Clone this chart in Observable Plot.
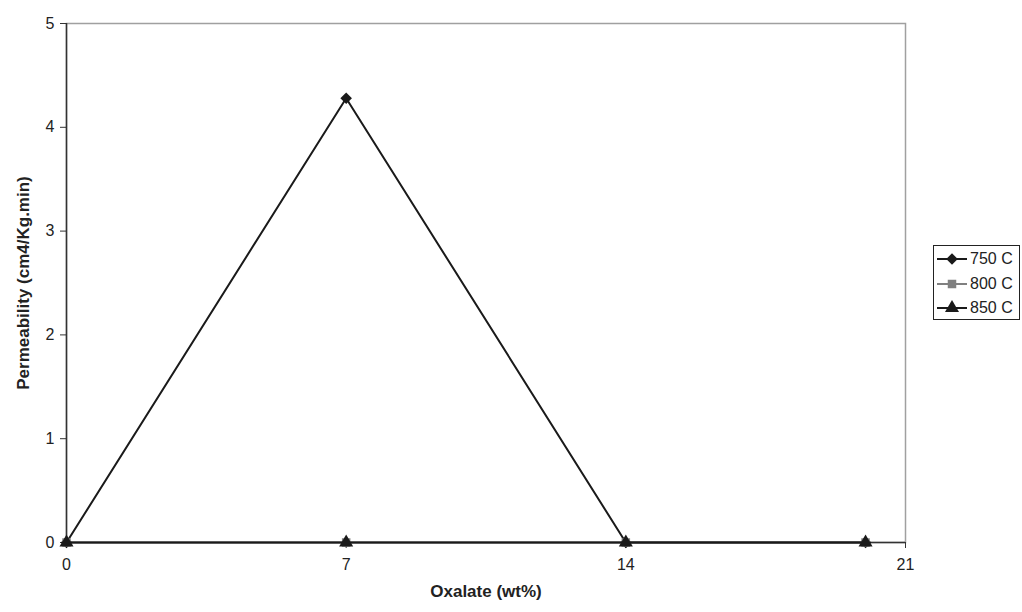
<!DOCTYPE html>
<html>
<head>
<meta charset="utf-8">
<script src="https://cdn.jsdelivr.net/npm/d3@7"></script>
<script src="https://cdn.jsdelivr.net/npm/@observablehq/plot@0.6"></script>
<style>
  body { margin: 0; background: #fff; font-family: "Liberation Sans", Arial, sans-serif; }
  #wrap { position: relative; width: 1022px; height: 612px; }
  #chart svg g[aria-label="x-axis tick label"] text,
  #chart svg g[aria-label="y-axis tick label"] text { font-size: 16px; fill: #222; }
  #chart svg g[aria-label="x-axis label"] text,
  #chart svg g[aria-label="y-axis label"] text { font-weight: bold; font-size: 17px; fill: #222; }
  #legend { position: absolute; left: 933px; top: 245px; width: 87px; height: 75px;
            border: 1px solid #222; background: #fff; box-sizing: border-box; padding-top: 1px; }
  #legend .row { display: flex; align-items: center; height: 24.5px; font-size: 16px; color: #222; }
  #legend svg { display: block; margin-left: 2px; margin-right: 2px; }
</style>
</head>
<body>
<div id="wrap">
  <div id="chart"></div>
  <div id="legend"></div>
</div>
<script>
const oxalate = [0, 7, 14, 20];
const seriesNames = ["750 C", "800 C", "850 C"];
const p750 = [0, 4.28, 0, 0];
const p800 = [0, 0, 0, 0];
const p850 = [0, 0, 0, 0];
const xTicks = [0, 7, 14, 21];
const yTicks = [0, 1, 2, 3, 4, 5];
const seriesColors = ["#1a1a1a", "#808080", "#1a1a1a"];
const seriesSymbols = ["diamond2", "square", "triangle"];
const d3Symbols = {diamond2: d3.symbolDiamond2, square: d3.symbolSquare, triangle: d3.symbolTriangle};
const symbolR = [5.2, 4.8, 5.2];

const values = [p750, p800, p850];
const data = [];
seriesNames.forEach((s, i) => oxalate.forEach((x, j) => data.push({series: s, x, y: values[i][j]})));

const marks = [
  Plot.frame({stroke: "#a0a0a0", strokeWidth: 1.5}),
  Plot.axisX({ticks: xTicks, tickFormat: "d", tickSize: 6, tickPadding: 10, label: "Oxalate (wt%)",
               labelAnchor: "center", labelArrow: "none", labelOffset: 54, stroke: "#333", color: "#222"}),
  Plot.axisY({ticks: yTicks, tickFormat: "d", tickSize: 6, tickPadding: 6, label: "Permeability (cm4/Kg.min)",
              labelAnchor: "center", labelArrow: "none", labelOffset: 50, stroke: "#333", color: "#222"}),
  Plot.ruleX([0], {stroke: "#333", strokeWidth: 1.5}),
  Plot.ruleY([0], {stroke: "#333", strokeWidth: 1.5})
];
seriesNames.forEach((s, i) => {
  const d = data.filter(r => r.series === s);
  marks.push(Plot.line(d, {x: "x", y: "y", stroke: seriesColors[i], strokeWidth: 2}));
  marks.push(Plot.dot(d, {x: "x", y: "y", symbol: seriesSymbols[i], fill: seriesColors[i],
                          r: symbolR[i], stroke: "none"}));
});

const chart = Plot.plot({
  width: 1022,
  height: 612,
  marginLeft: 66,
  marginRight: 117,
  marginTop: 23,
  marginBottom: 70,
  style: {fontFamily: "Liberation Sans, Arial, sans-serif", fontSize: "16px", background: "#fff"},
  x: {domain: [0, 21]},
  y: {domain: [0, 5]},
  marks
});
document.getElementById("chart").appendChild(chart);

// legend
const legend = document.getElementById("legend");
seriesNames.forEach((s, i) => {
  const row = document.createElement("div");
  row.className = "row";
  const sym = d3.symbol(d3Symbols[seriesSymbols[i]], Math.PI * symbolR[i] * symbolR[i])();
  row.innerHTML = `<svg width="32" height="20"><line x1="1" x2="31" y1="10" y2="10" stroke="${seriesColors[i]}" stroke-width="2"/>` +
    `<path d="${sym}" transform="translate(16,10)" fill="${seriesColors[i]}"/></svg><span>${s}</span>`;
  legend.appendChild(row);
});
</script>
</body>
</html>
